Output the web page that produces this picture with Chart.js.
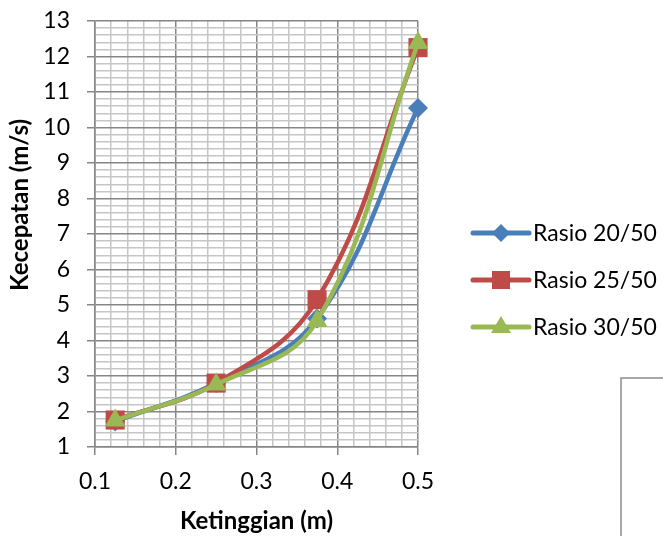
<!DOCTYPE html>
<html>
<head>
<meta charset="utf-8">
<script src="https://cdn.jsdelivr.net/npm/chart.js"></script>
<style>
  body { margin: 0; background: #fff; }
  #wrap { width: 663px; height: 536px; position: relative; }
</style>
</head>
<body>
<div id="wrap"><canvas id="myChart"></canvas></div>
<script>
// data
const ketinggian = [0.125, 0.25, 0.375, 0.5];
const rasio20 = [1.72, 2.8, 4.62, 10.55];
const rasio25 = [1.76, 2.8, 5.15, 12.25];
const rasio30 = [1.75, 2.76, 4.55, 12.38];
const seriesNames = ["Rasio 20/50", "Rasio 25/50", "Rasio 30/50"];
const xTicks = [0.1, 0.2, 0.3, 0.4, 0.5];
const yTicks = [1, 2, 3, 4, 5, 6, 7, 8, 9, 10, 11, 12, 13];

const FONT = "Lato";
const colors = ["#4a7ebb", "#be4b48", "#98b954"];
const markers = ["rectRot", "rect", "triangle"];
const radii = [10, 13.5, 12];

function pts(ys) {
  return ketinggian.map((x, i) => ({ x: x, y: ys[i] }));
}

function isMajor(v, list) {
  return list.some((t) => Math.abs(t - v) < 1e-6);
}

// legend drawn as line + marker like the original
const lineLegend = {
  id: "lineLegend",
  afterDraw(chart) {
    const ctx = chart.ctx;
    const x0 = 473, x1 = 529, top = 233, gap = 47;
    chart.data.datasets.forEach((ds, i) => {
      const y = top + i * gap;
      ctx.save();
      ctx.strokeStyle = ds.borderColor;
      ctx.lineWidth = 5;
      ctx.lineCap = "round";
      ctx.beginPath();
      ctx.moveTo(x0, y);
      ctx.lineTo(x1, y);
      ctx.stroke();
      ctx.fillStyle = ds.borderColor;
      ctx.beginPath();
      const cx = (x0 + x1) / 2;
      if (ds.pointStyle === "rectRot") {
        ctx.moveTo(cx, y - 9); ctx.lineTo(cx + 9, y); ctx.lineTo(cx, y + 9); ctx.lineTo(cx - 9, y);
      } else if (ds.pointStyle === "rect") {
        ctx.rect(cx - 9, y - 9, 18, 18);
      } else {
        ctx.moveTo(cx, y - 11); ctx.lineTo(cx + 10, y + 6); ctx.lineTo(cx - 10, y + 6);
      }
      ctx.closePath();
      ctx.fill();
      ctx.fillStyle = "#000";
      ctx.font = "23px " + FONT;
      ctx.textBaseline = "middle";
      ctx.fillText(ds.label, 533, y + 1);
      ctx.restore();
    });
    // stray frame in the bottom right corner
    ctx.save();
    ctx.strokeStyle = "#8c8c8c";
    ctx.lineWidth = 1.5;
    ctx.beginPath();
    ctx.moveTo(621, 536);
    ctx.lineTo(621, 378);
    ctx.lineTo(663, 378);
    ctx.stroke();
    ctx.restore();
  }
};

const ctx = document.getElementById("myChart");
new Chart(ctx, {
  type: "line",
  data: {
    datasets: [rasio20, rasio25, rasio30].map((ys, i) => ({
      label: seriesNames[i],
      data: pts(ys),
      borderColor: colors[i],
      backgroundColor: colors[i],
      borderWidth: 4.5,
      pointStyle: markers[i],
      pointRadius: radii[i],
      pointHoverRadius: radii[i],
      pointBorderWidth: 0,
      tension: 0.4,
      order: 3 - i,
      clip: false
    }))
  },
  options: {
    responsive: true,
    maintainAspectRatio: false,
    animation: false,
    events: [],
    layout: { padding: { top: 21, right: 245, left: 0, bottom: 0 } },
    plugins: { legend: { display: false }, tooltip: { enabled: false } },
    scales: {
      x: {
        type: "linear",
        min: 0.1,
        max: 0.5,
        afterFit(scale) {
          scale.height = 89;
          scale.paddingLeft = 0;
          scale.paddingRight = 0;
        },
        ticks: {
          stepSize: 0.02,
          maxTicksLimit: 100,
          autoSkip: false,
          maxRotation: 0,
          padding: 13,
          color: "#000",
          font: { family: FONT, size: 23 },
          callback: (v) => (isMajor(v, xTicks) ? v.toFixed(1) : "")
        },
        grid: {
          color: (c) => (isMajor(c.tick.value, xTicks) ? "#868686" : "#c6c6c6"),
          tickColor: (c) => (isMajor(c.tick.value, xTicks) ? "#868686" : "rgba(0,0,0,0)"),
          lineWidth: 1.5,
          tickLength: 8
        },
        border: { color: "#868686", width: 1.5 },
        title: {
          display: true,
          text: "Ketinggian (m)",
          color: "#000",
          font: { family: FONT, size: 24, weight: "bold" },
          padding: { top: 0, bottom: 0 }
        }
      },
      y: {
        type: "linear",
        min: 1,
        max: 13,
        afterFit(scale) {
          scale.width = 95;
          scale.paddingTop = 0;
          scale.paddingBottom = 0;
        },
        ticks: {
          stepSize: 0.2,
          maxTicksLimit: 100,
          autoSkip: false,
          padding: 17,
          color: "#000",
          font: { family: FONT, size: 23 },
          callback: (v) => (isMajor(v, yTicks) ? String(Math.round(v)) : "")
        },
        grid: {
          color: (c) => (isMajor(c.tick.value, yTicks) ? "#868686" : "#c6c6c6"),
          tickColor: (c) => (isMajor(c.tick.value, yTicks) ? "#868686" : "rgba(0,0,0,0)"),
          lineWidth: 1.5,
          tickLength: 8
        },
        border: { color: "#868686", width: 1.5 },
        title: {
          display: true,
          text: " ".repeat(10) + "Kecepatan (m/s)",
          color: "#000",
          font: { family: FONT, size: 24, weight: "bold" },
          padding: { top: 6, bottom: 0 }
        }
      }
    }
  },
  plugins: [lineLegend]
});
</script>
</body>
</html>
